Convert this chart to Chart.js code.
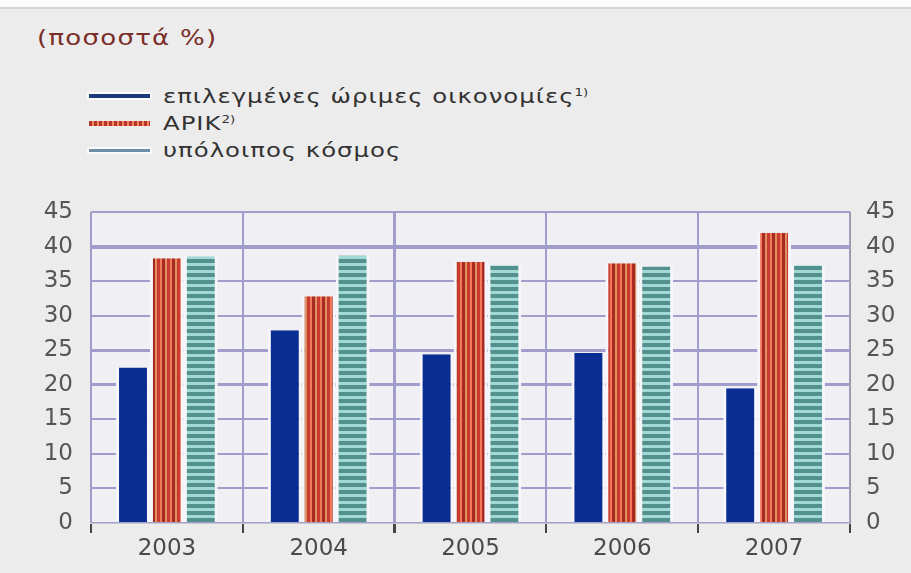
<!DOCTYPE html>
<html>
<head>
<meta charset="utf-8">
<script src="https://cdn.jsdelivr.net/npm/chart.js@4"></script>
<style>
  html, body { margin: 0; padding: 0; background: #ececec; }
  #wrap { position: relative; width: 911px; height: 573px; overflow: hidden; }
  #topband { position: absolute; left: 0; top: 0; width: 911px; height: 7px; background: #fbfbfb; border-bottom: 2px solid #d4d4d4; }
  #title { position: absolute; left: 37px; top: 26px; font: 21px "DejaVu Sans", sans-serif; color: #7a2e28; letter-spacing: 1px; transform: scaleX(1.24); transform-origin: 0 0; }
  .leg { position: absolute; left: 163px; height: 22px; line-height: 22px; font: 20px "DejaVu Sans", sans-serif; color: #333; letter-spacing: 0.8px; white-space: nowrap; transform: scaleX(1.22); transform-origin: 0 0; }
  .leg sup { font-size: 11px; line-height: 0; vertical-align: 7px; letter-spacing: 0; }
  .sample { position: absolute; left: 89px; width: 61px; }
  canvas { position: absolute; left: 0; top: 0; }
</style>
</head>
<body>
<div id="wrap">
  <div id="topband"></div>
  <div id="title">(ποσοστά %)</div>
  <div class="sample" style="top:94px;height:4px;background:#1b3a7a;box-shadow:0 0 0 2px #fafafc;"></div>
  <div class="leg" style="top:84px;">επιλεγμένες ώριμες οικονομίες<sup>1)</sup></div>
  <div class="sample" style="top:121px;height:5px;background:repeating-linear-gradient(90deg,#b8332a 0 3px,#f08a62 3px 5px);"></div>
  <div class="leg" style="top:111px;">ΑΡΙΚ<sup>2)</sup></div>
  <div class="sample" style="top:149px;height:3px;background:#6d8ea5;box-shadow:0 0 0 2px #fafafc;"></div>
  <div class="leg" style="top:138px;">υπόλοιπος κόσμος</div>
  <canvas id="chart" width="911" height="573"></canvas>
</div>
<script>
// data
var categories = ['2003', '2004', '2005', '2006', '2007'];
var matureValues = [22.5, 27.9, 24.4, 24.6, 19.5];
var secondValues = [38.3, 32.8, 37.8, 37.6, 42.0];
var restValues = [38.6, 38.7, 37.3, 37.1, 37.3];
var yMin = 0, yMax = 45, yStep = 5;

// striped fills
function stripes(size, bands, vertical) {
  var c = document.createElement('canvas');
  c.width = vertical ? size : 1;
  c.height = vertical ? 1 : size;
  var g = c.getContext('2d');
  var pos = 0;
  bands.forEach(function (b) {
    g.fillStyle = b[1];
    if (vertical) g.fillRect(pos, 0, b[0], 1);
    else g.fillRect(0, pos, 1, b[0]);
    pos += b[0];
  });
  return g.createPattern(c, 'repeat');
}
var redFill = stripes(10, [[2, '#f07a5a'], [3, '#a82b23'], [2, '#df905e'], [3, '#c83c30']], true);
var tealFill = stripes(7, [[4, '#52918e'], [3, '#a3d9d4']], false);

var halo = '#f7f7fb';
var sides = { left: 3, right: 3, top: 0, bottom: 0 };

var plotBg = {
  id: 'plotBg',
  beforeDraw: function (chart) {
    var a = chart.chartArea, ctx = chart.ctx;
    ctx.save();
    ctx.fillStyle = '#f0f0f4';
    ctx.fillRect(a.left, a.top, a.right - a.left, a.bottom - a.top);
    ctx.restore();
  }
};

var tickFont = { family: '"DejaVu Sans", sans-serif', size: 23 };

var ctx = document.getElementById('chart').getContext('2d');
window.myBar = new Chart(ctx, {
  type: 'bar',
  data: {
    labels: categories,
    datasets: [
      { label: 'mature', data: matureValues, backgroundColor: '#0a2d94', borderColor: halo, borderWidth: sides, borderSkipped: false },
      { label: 'second', data: secondValues, backgroundColor: redFill, borderColor: halo, borderWidth: sides, borderSkipped: false },
      { label: 'rest', data: restValues, backgroundColor: tealFill, borderColor: halo, borderWidth: sides, borderSkipped: false }
    ]
  },
  options: {
    responsive: false,
    animation: false,
    layout: { padding: { top: 212, left: 0, right: 0, bottom: 0 } },
    categoryPercentage: 0.67,
    barPercentage: 1.0,
    plugins: { legend: { display: false }, tooltip: { enabled: false } },
    scales: {
      x: {
        grid: {
          offset: true,
          color: '#a09ccc',
          lineWidth: function (c) { return c.index === 2 ? 3 : 2; },
          tickLength: 10,
          tickColor: '#444'
        },
        border: { display: true, color: '#c9c9d2', width: 1 },
        ticks: { color: '#4a4a4a', font: tickFont, padding: 2 },
        afterFit: function (s) { s.height = 50; }
      },
      y: {
        min: yMin, max: yMax,
        ticks: { stepSize: yStep, color: '#555', font: tickFont, padding: 18 },
        grid: {
          drawTicks: false,
          color: '#a09ccc',
          lineWidth: function (c) {
            var v = c.tick && c.tick.value;
            if (v === 40) return 4;
            if (v === 25 || v === 20) return 3;
            return 2;
          }
        },
        border: { display: false },
        afterFit: function (s) { s.width = 91; }
      },
      y2: {
        position: 'right',
        min: yMin, max: yMax,
        ticks: { stepSize: yStep, color: '#555', font: tickFont, padding: 16 },
        grid: { display: false, drawTicks: false },
        border: { display: true, color: '#9a9a9a', width: 1 },
        afterFit: function (s) { s.width = 61; }
      }
    }
  },
  plugins: [plotBg]
});
</script>
</body>
</html>
